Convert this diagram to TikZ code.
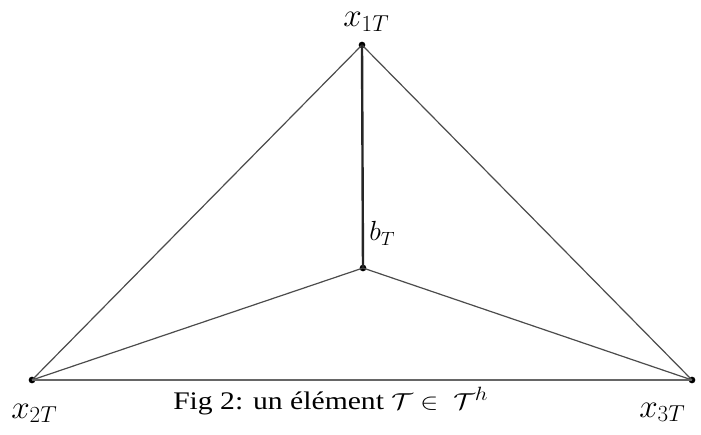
\documentclass[tikz,border=0pt]{standalone}
\usepackage{fontspec}
\setmainfont{Liberation Serif}
\begin{document}
\begin{tikzpicture}[x=0.75pt,y=-0.75pt,
  edge/.style={draw=black!70, line width=0.9pt},
  axis/.style={draw=black!85, line width=1.8pt},
  base/.style={draw=black!60, line width=1.6pt},
  vdot/.style={circle, fill=black, inner sep=0pt, minimum size=5pt},
  lab/.style={font=\fontsize{23}{27}\selectfont, inner sep=0pt},
  blab/.style={font=\fontsize{22}{26}\selectfont, inner sep=0pt},
  captext/.style={font=\fontsize{19}{23}\selectfont, inner sep=0pt}]
\useasboundingbox (0,0) rectangle (701,435);
\fill[white] (0,0) rectangle (701,435);
\node[vdot] (x1) at (362,45) {};
\node[vdot] (b) at (363,268) {};
\node[vdot] (x2) at (32,380) {};
\node[vdot] (x3) at (692,380) {};
\draw[edge] (x1.center) -- (x2.center);
\draw[edge] (x1.center) -- (x3.center);
\draw[edge] (b.center) -- (x2.center);
\draw[edge] (b.center) -- (x3.center);
\draw[base] (x2.center) -- (x3.center);
\draw[axis] (x1.center) -- (b.center);
\node[lab, anchor=base west] (l1) at (343,27) {$x_{1T}$};
\node[blab, anchor=base west] (lb) at (369,241) {$b_T$};
\node[lab, anchor=base west] (l2) at (11,418) {$x_{2T}$};
\node[lab, anchor=base west] (l3) at (639,417) {$x_{3T}$};
\node[captext, anchor=base west] (c) at (173,409) {\scalebox{1.17}[1]{Fig 2: un élément $\mathcal{T}\in\ \mathcal{T}^h$}};
\end{tikzpicture}
\end{document}
